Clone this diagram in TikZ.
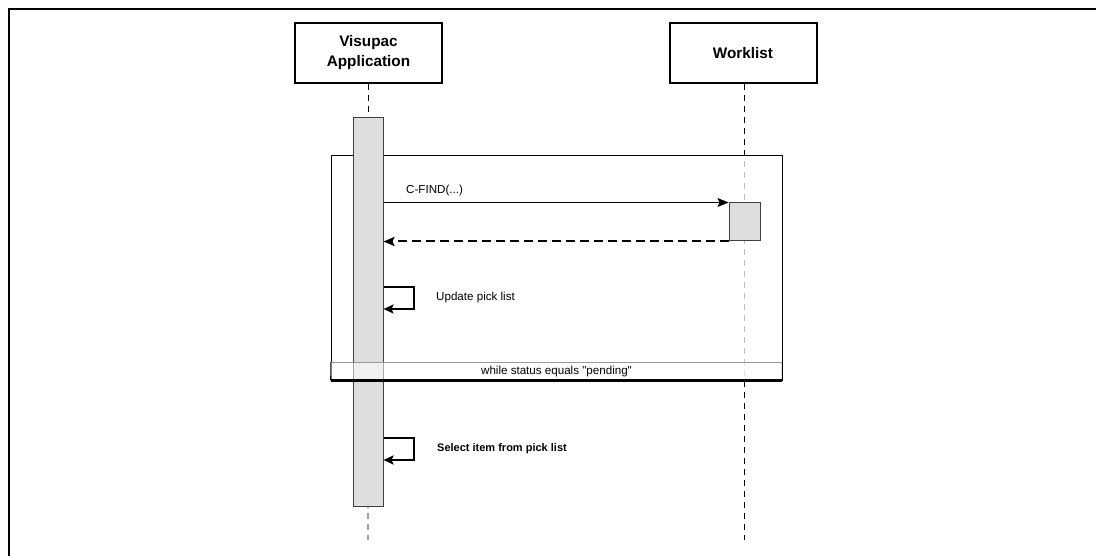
\documentclass[tikz,border=0pt]{standalone}
\usepackage{fontspec}
\setmainfont{Liberation Sans}
\usetikzlibrary{arrows.meta}
\definecolor{barfill}{HTML}{DEDEDE}
\definecolor{barline}{HTML}{404040}
\begin{document}
\begin{tikzpicture}[x=1pt,y=-1pt,
 actor/.style={draw, line width=2pt, fill=white, minimum width=147pt, minimum height=60pt, inner sep=0pt, align=center, font=\fontsize{15.3}{20}\selectfont\bfseries},
 lifeline/.style={draw=black, line width=0.9pt, dash pattern=on 6pt off 5pt},
 actbar/.style={draw=barline, fill=barfill, line width=1pt, inner sep=0pt, minimum width=30pt},
 msg/.style={line width=1pt, -{Stealth[length=11pt,width=9pt,inset=2pt]}},
 ret/.style={line width=2pt, dash pattern=on 9pt off 5pt, -{Stealth[length=11pt,width=9pt,inset=2pt]}},
 selfmsg/.style={line width=2pt, -{Stealth[length=10pt,width=9pt,inset=2pt]}},
 lbl/.style={anchor=west, inner sep=0pt, font=\fontsize{11.6}{13}\selectfont},
]
\useasboundingbox (0,0) rectangle (1096,556);
% outer frame
\draw[line width=2pt] (9,556) -- (9,9) -- (1096,9);

% actors
\node[actor] (app) at (368.5,53) {Visupac\\Application};
\node[actor] (wl) at (743,53) {Worklist};

% lifelines
\coordinate (append) at (368,540);
\coordinate (wlend) at (744,540);
\draw[lifeline] (app.south) -- (append);
\draw[lifeline] (wl.south -| wlend) -- (wlend);

% loop frame
\node[draw=black, line width=0.8pt, fill=white, fill opacity=0.75, draw opacity=1, minimum width=451pt, minimum height=225pt, inner sep=0pt] (loop) at (556.5,267.5) {};

% activation bars
\node[actbar, minimum height=388pt] (appbar) at (368,312) {};
\node[actbar, minimum width=31pt, minimum height=38pt] (wlbar) at (744.5,222) {};

% guard row
\node[fill=white, fill opacity=0.55, text opacity=1, minimum width=451pt, minimum height=18pt, inner sep=0pt, anchor=south, font=\fontsize{11.6}{13}\selectfont] (guard) at (loop.south) {while status equals \textquotedbl pending\textquotedbl};
\draw[black!40, line width=0.8pt] (guard.north west) -- (guard.north east);
\draw[line width=0.8pt] (guard.north west) -- (loop.south west);
\draw[line width=0.8pt] (guard.north east) -- (loop.south east);
\draw[line width=2.2pt] (loop.south west) -- (loop.south east);

% C-FIND message
\draw[msg] (appbar.east |- wlbar.north west) -- (wlbar.north west);
\node[lbl] (cfind) at (406,190) {C-FIND(...)};
% return
\draw[ret] (wlbar.south west) -- (appbar.east |- wlbar.south west);

% self message 1
\coordinate (s1a) at (414,287);
\coordinate (s1b) at (414,309);
\draw[selfmsg] (appbar.east |- s1a) -- (s1a) -- (s1b) -- (appbar.east |- s1b);
\node[lbl] (upd) at (436,298) {Update pick list};

% self message 2
\coordinate (s2a) at (414,438);
\coordinate (s2b) at (414,460);
\draw[selfmsg] (appbar.east |- s2a) -- (s2a) -- (s2b) -- (appbar.east |- s2b);
\node[lbl, font=\fontsize{11}{13}\selectfont\bfseries] (sel) at (437,449) {Select item from pick list};
\end{tikzpicture}
\end{document}
